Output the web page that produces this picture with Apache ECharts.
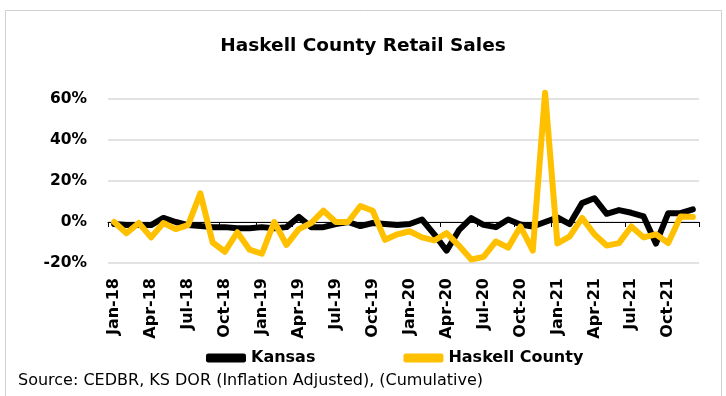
<!DOCTYPE html>
<html>
<head>
<meta charset="utf-8">
<script src="https://cdn.jsdelivr.net/npm/echarts@6/dist/echarts.min.js"></script>
<style>
html,body{margin:0;padding:0;background:#fff;}
#c{width:726px;height:396px;}
</style>
</head>
<body>
<div id="c"></div>
<script>
const months = [
 'Jan-18','Feb-18','Mar-18','Apr-18','May-18','Jun-18','Jul-18','Aug-18','Sep-18','Oct-18','Nov-18','Dec-18',
 'Jan-19','Feb-19','Mar-19','Apr-19','May-19','Jun-19','Jul-19','Aug-19','Sep-19','Oct-19','Nov-19','Dec-19',
 'Jan-20','Feb-20','Mar-20','Apr-20','May-20','Jun-20','Jul-20','Aug-20','Sep-20','Oct-20','Nov-20','Dec-20',
 'Jan-21','Feb-21','Mar-21','Apr-21','May-21','Jun-21','Jul-21','Aug-21','Sep-21','Oct-21','Nov-21','Dec-21'
];
const kansas = [
 -1,-1.5,-1.5,-1.5,2,0,-1.5,-2,-2.5,-2.5,-3,-3,
 -2.5,-3,-2.5,2.5,-2.5,-2.5,-1,0,-2,-0.5,-1,-1.5,
 -1,1.2,-6,-14,-4,1.9,-1.4,-2.5,1.2,-1.2,-2.2,0,
 2.2,-1,9.2,11.6,4,5.8,4.5,2.7,-10.5,4.3,4.3,6.2
];
const haskell = [
 0,-5.5,-0.5,-7.5,-0.5,-3.5,-1.5,14,-10,-14.5,-5,-13.5,
 -15.5,0,-11.2,-3.5,-0.5,5.5,0,0,7.8,5.5,-8.7,-6,
 -4.5,-7.5,-9,-5.4,-11.5,-18.3,-17,-9.5,-12.5,-2.2,-14,63,
 -10.5,-7,2,-6,-11.5,-10.3,-2.2,-7.5,-6,-10.3,2.7,2.5
];
const yTicks = {min: -20, max: 60, step: 20};
const titleText = 'Haskell County Retail Sales';
const sourceText = 'Source: CEDBR, KS DOR (Inflation Adjusted), (Cumulative)';

const FONT = '"DejaVu Sans"';
const chart = echarts.init(document.getElementById('c'), null, {renderer: 'canvas'});
chart.setOption({
  backgroundColor: '#ffffff',
  animation: false,
  title: {
    text: titleText,
    left: 'center',
    top: 32,
    textStyle: {fontFamily: FONT, fontWeight: 'bold', fontSize: 18.5, color: '#000'}
  },
  legend: {
    left: 201,
    top: 345,
    itemWidth: 40,
    itemHeight: 9,
    itemGap: 88,
    icon: 'roundRect',
    textStyle: {fontFamily: FONT, fontWeight: 'bold', fontSize: 16, color: '#000'},
    data: ['Kansas', 'Haskell County']
  },
  grid: {left: 108, right: 27, top: 99, bottom: 133, containLabel: false},
  xAxis: [{
    type: 'category',
    data: months,
    boundaryGap: true,
    position: 'bottom',
    axisLine: {show: false, onZero: false},
    axisTick: {show: false},
    axisLabel: {
      interval: 2,
      rotate: 90,
      margin: 15,
      fontFamily: FONT, fontWeight: 'bold', fontSize: 16, color: '#000'
    },
    splitLine: {show: false}
  }, {
    type: 'category',
    data: months,
    boundaryGap: true,
    position: 'bottom',
    axisLine: {show: true, onZero: true, lineStyle: {color: '#000', width: 1}},
    axisTick: {show: true, interval: 2, inside: false, length: 5, lineStyle: {color: '#000'}},
    axisLabel: {show: false},
    splitLine: {show: false}
  }],
  yAxis: {
    type: 'value',
    min: yTicks.min,
    max: yTicks.max,
    interval: yTicks.step,
    axisLine: {show: false},
    axisTick: {show: false},
    axisLabel: {
      formatter: v => v + '%',
      margin: 21,
      fontFamily: FONT, fontWeight: 'bold', fontSize: 15.5, color: '#000'
    },
    splitLine: {lineStyle: {color: '#d9d9d9', width: 1.5}}
  },
  graphic: [{
    type: 'rect',
    shape: {x: 5.5, y: 10.5, width: 716, height: 400},
    style: {fill: null, stroke: '#d0d0d0', lineWidth: 1},
    silent: true, z: -10
  }, {
    type: 'text',
    left: 18,
    top: 373,
    style: {text: sourceText, font: '16px "DejaVu Sans"', fill: '#000'}
  }],
  series: [{
    name: 'Kansas',
    type: 'line',
    xAxisIndex: 0,
    data: kansas,
    showSymbol: false,
    clip: false,
    color: '#000000',
    lineStyle: {color: '#000000', width: 6, join: 'round', cap: 'round'},
    z: 3
  }, {
    name: 'Haskell County',
    type: 'line',
    xAxisIndex: 0,
    data: haskell,
    showSymbol: false,
    clip: false,
    color: '#FFC000',
    lineStyle: {color: '#FFC000', width: 6, join: 'round', cap: 'round'},
    z: 4
  }]
});
</script>
</body>
</html>
